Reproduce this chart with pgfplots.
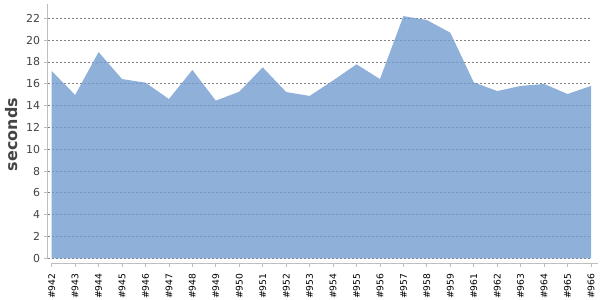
\documentclass[border=0pt]{standalone}
\usepackage{fontspec}
\setmainfont{DejaVu Sans}
\usepackage{pgfplots}
\pgfplotsset{compat=1.18}
\definecolor{areafill}{RGB}{115,156,207}
\definecolor{axisgray}{RGB}{190,190,190}
\definecolor{labgray}{RGB}{68,68,68}
\definecolor{gridgray}{RGB}{130,130,130}
\begin{document}
\begin{tikzpicture}
\begin{axis}[
  scale only axis,
  width=543.3bp, height=259bp,
  xmin=-0.17, xmax=23,
  ymin=-0.43, ymax=23.31,
  axis x line=bottom, axis y line=left,
  axis line style={-, draw=axisgray, line width=0.8bp},
  x axis line style={shorten <=3.5bp, shorten >=-7bp},
  y axis line style={shorten <=4.7bp},
  xtick=data,
  xticklabels={\#942,\#943,\#944,\#945,\#946,\#947,\#948,\#949,\#950,\#951,\#952,\#953,\#954,\#955,\#956,\#957,\#958,\#959,\#961,\#962,\#963,\#964,\#965,\#966},
  xticklabel style={rotate=90, anchor=east, font=\fontsize{9.2}{10}\selectfont, text=black},
  xticklabel shift=3bp,
  xtick style={draw=axisgray, line width=0.8bp},
  tick align=outside,
  major tick length=4bp,
  ytick={0,2,4,6,8,10,12,14,16,18,20,22},
  ytick style={draw=axisgray, line width=0.8bp},
  yticklabel style={font=\fontsize{11}{12}\selectfont, text=labgray},
  /pgf/number format/assume math mode=true,
  ymajorgrids,
  grid style={draw=gridgray, dash pattern=on 2.5bp off 1.5bp, line width=0.7bp},
  ylabel={seconds},
  ylabel style={at={(axis description cs:-0.056,0.496)}, anchor=base, font=\bfseries\fontsize{16}{18}\selectfont, text=labgray},
]
\addplot[fill=areafill, fill opacity=0.8, draw=none] coordinates {
(0,17.17) (1,14.97) (2,18.9) (3,16.43) (4,16.1) (5,14.6) (6,17.26) (7,14.45)
(8,15.27) (9,17.5) (10,15.24) (11,14.88) (12,16.3) (13,17.78) (14,16.43) (15,22.2)
(16,21.84) (17,20.68) (18,16.13) (19,15.33) (20,15.8) (21,15.98) (22,15.06) (23,15.8)
} \closedcycle;
\end{axis}
\pgfresetboundingbox
\path (current axis.south west) ++(-47.7bp,-37bp) rectangle ++(600bp,300bp);
\end{tikzpicture}
\end{document}
